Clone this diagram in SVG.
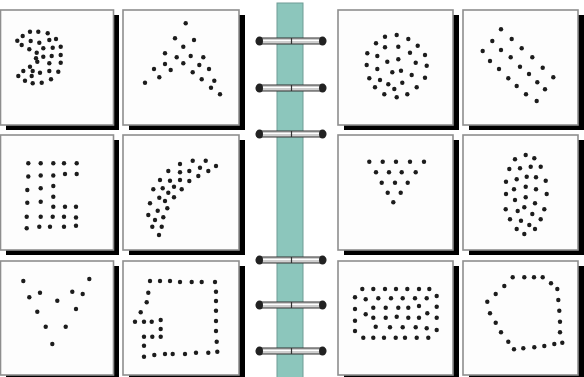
<svg xmlns="http://www.w3.org/2000/svg" width="584" height="377" viewBox="0 0 584 377">
<style>
.sh{fill:#000}
.cd{fill:#fdfdfd;stroke:#8e8e8e;stroke-width:1.6}
.d circle{fill:#1c1c1c}
.bar{fill:#cfcfcf;stroke:#333;stroke-width:1.2}
.hl{stroke:#fff;stroke-width:1}
.cap{fill:#222}
.tick{stroke:#333;stroke-width:1.2}
</style>
<rect width="584" height="377" fill="#ffffff"/>
<g id="spine">
<rect x="277" y="3" width="26" height="380" fill="#8cc6bc" stroke="#6f9c95" stroke-width="1"/>
</g>
<g id="card1">
<rect class="sh" x="6" y="15" width="113" height="115"/>
<rect class="cd" x="0.5" y="10" width="113" height="115"/>
<g class="d">
<circle cx="17.3" cy="40.7" r="2.2"/><circle cx="22.7" cy="36" r="2.2"/><circle cx="30" cy="31.7" r="2.2"/><circle cx="38.3" cy="31.7" r="2.2"/><circle cx="47.7" cy="33.3" r="2.2"/>
<circle cx="21.7" cy="45" r="2.2"/><circle cx="30.7" cy="41" r="2.2"/><circle cx="39.3" cy="42.7" r="2.2"/><circle cx="49.3" cy="40" r="2.2"/><circle cx="56" cy="39" r="2.2"/>
<circle cx="29.3" cy="49.3" r="2.2"/><circle cx="36.7" cy="52.7" r="2.2"/><circle cx="43.3" cy="48.3" r="2.2"/><circle cx="52.7" cy="47.7" r="2.2"/><circle cx="60.7" cy="46.7" r="2.2"/>
<circle cx="36" cy="58.3" r="2.2"/><circle cx="43.3" cy="56.7" r="2.2"/><circle cx="51.7" cy="56" r="2.2"/><circle cx="60.7" cy="55" r="2.2"/>
<circle cx="30" cy="66.7" r="2.2"/><circle cx="37.3" cy="61.7" r="2.2"/><circle cx="49.3" cy="63.3" r="2.2"/><circle cx="60.7" cy="62.7" r="2.2"/>
<circle cx="23.3" cy="71" r="2.2"/><circle cx="32.7" cy="71" r="2.2"/><circle cx="40" cy="72.7" r="2.2"/><circle cx="49.3" cy="71" r="2.2"/><circle cx="58.3" cy="71.7" r="2.2"/>
<circle cx="18.3" cy="76" r="2.2"/><circle cx="31.7" cy="76" r="2.2"/><circle cx="25" cy="80.7" r="2.2"/><circle cx="32.7" cy="83.3" r="2.2"/><circle cx="41.7" cy="82.7" r="2.2"/><circle cx="51" cy="79.3" r="2.2"/>
</g>
</g>
<g id="card2">
<rect class="sh" x="129" y="15" width="116" height="115"/>
<rect class="cd" x="123" y="10" width="116" height="115"/>
<g class="d">
<circle cx="185.7" cy="23.3" r="2.2"/><circle cx="175" cy="38.3" r="2.2"/><circle cx="194" cy="40" r="2.2"/><circle cx="183.3" cy="46.7" r="2.2"/>
<circle cx="165" cy="53.3" r="2.2"/><circle cx="176.7" cy="57.3" r="2.2"/><circle cx="190.7" cy="56" r="2.2"/><circle cx="203.3" cy="57.3" r="2.2"/>
<circle cx="165" cy="64" r="2.2"/><circle cx="183.3" cy="63.3" r="2.2"/><circle cx="199.3" cy="65" r="2.2"/>
<circle cx="154" cy="69" r="2.2"/><circle cx="170.7" cy="70" r="2.2"/><circle cx="192.7" cy="72.3" r="2.2"/><circle cx="209" cy="69" r="2.2"/>
<circle cx="159.3" cy="77.3" r="2.2"/><circle cx="201.7" cy="79.3" r="2.2"/><circle cx="214.3" cy="80.7" r="2.2"/>
<circle cx="145" cy="82.7" r="2.2"/><circle cx="211" cy="87.7" r="2.2"/><circle cx="220" cy="94.3" r="2.2"/>
</g>
</g>
<g id="card3">
<rect class="sh" x="344" y="15" width="115" height="115"/>
<rect class="cd" x="338" y="10" width="115" height="115"/>
<g class="d">
<circle cx="385" cy="36.7" r="2.2"/><circle cx="396.7" cy="35" r="2.2"/><circle cx="408.3" cy="39" r="2.2"/>
<circle cx="376" cy="43.3" r="2.2"/><circle cx="385" cy="47.3" r="2.2"/><circle cx="398.3" cy="46.7" r="2.2"/><circle cx="417.7" cy="45.7" r="2.2"/>
<circle cx="367.3" cy="53.3" r="2.2"/><circle cx="377.3" cy="56" r="2.2"/><circle cx="387.3" cy="61.7" r="2.2"/><circle cx="398.3" cy="59.3" r="2.2"/><circle cx="410" cy="52.7" r="2.2"/><circle cx="425" cy="55" r="2.2"/>
<circle cx="366.7" cy="65" r="2.2"/><circle cx="377.3" cy="69" r="2.2"/><circle cx="392.3" cy="72.3" r="2.2"/><circle cx="401" cy="70.7" r="2.2"/><circle cx="415.7" cy="62.7" r="2.2"/><circle cx="426.7" cy="65.7" r="2.2"/>
<circle cx="369.3" cy="78.3" r="2.2"/><circle cx="380" cy="80" r="2.2"/><circle cx="388.3" cy="84.3" r="2.2"/><circle cx="402.3" cy="82.7" r="2.2"/><circle cx="411.7" cy="75" r="2.2"/><circle cx="425" cy="77.7" r="2.2"/>
<circle cx="375" cy="87.3" r="2.2"/><circle cx="394.3" cy="89" r="2.2"/><circle cx="416.7" cy="87.3" r="2.2"/>
<circle cx="384.3" cy="94.3" r="2.2"/><circle cx="396.7" cy="97.3" r="2.2"/><circle cx="407.3" cy="94.3" r="2.2"/>
</g>
</g>
<g id="card4">
<rect class="sh" x="469" y="15" width="115" height="115"/>
<rect class="cd" x="463" y="10" width="115" height="115"/>
<g class="d">
<circle cx="501" cy="29.3" r="2.2"/><circle cx="492.3" cy="41" r="2.2"/><circle cx="511.7" cy="39" r="2.2"/>
<circle cx="482.7" cy="51" r="2.2"/><circle cx="501" cy="50" r="2.2"/><circle cx="521.7" cy="48.3" r="2.2"/>
<circle cx="490" cy="61" r="2.2"/><circle cx="510.7" cy="57.3" r="2.2"/><circle cx="532.3" cy="57.3" r="2.2"/>
<circle cx="499" cy="69" r="2.2"/><circle cx="520" cy="66.7" r="2.2"/><circle cx="542.7" cy="67.7" r="2.2"/>
<circle cx="508.3" cy="78.3" r="2.2"/><circle cx="529" cy="74" r="2.2"/><circle cx="553.3" cy="77.3" r="2.2"/>
<circle cx="516.7" cy="86" r="2.2"/><circle cx="537.3" cy="82.3" r="2.2"/><circle cx="545" cy="89.3" r="2.2"/>
<circle cx="526" cy="94.3" r="2.2"/><circle cx="536.7" cy="101" r="2.2"/>
</g>
</g>
<g id="card5">
<rect class="sh" x="6" y="140" width="113" height="115"/>
<rect class="cd" x="0.5" y="135" width="113" height="115"/>
<g class="d">
<circle cx="28.3" cy="163.3" r="2.2"/><circle cx="40.7" cy="163.3" r="2.2"/><circle cx="53.3" cy="163.3" r="2.2"/><circle cx="64" cy="163.3" r="2.2"/><circle cx="76.7" cy="163.3" r="2.2"/>
<circle cx="28.3" cy="176.5" r="2.2"/><circle cx="40.7" cy="175.5" r="2.2"/><circle cx="53.3" cy="175.5" r="2.2"/><circle cx="65" cy="174" r="2.2"/><circle cx="76.7" cy="174" r="2.2"/>
<circle cx="27.3" cy="190" r="2.2"/><circle cx="40.7" cy="188.3" r="2.2"/><circle cx="53.3" cy="186" r="2.2"/>
<circle cx="27.3" cy="202.7" r="2.2"/><circle cx="40.7" cy="201.7" r="2.2"/><circle cx="53.3" cy="196.7" r="2.2"/>
<circle cx="53.3" cy="206.7" r="2.2"/><circle cx="65" cy="206.7" r="2.2"/><circle cx="76" cy="206.7" r="2.2"/>
<circle cx="26.7" cy="216.7" r="2.2"/><circle cx="40.7" cy="216.7" r="2.2"/><circle cx="52.7" cy="216.7" r="2.2"/><circle cx="64" cy="216.7" r="2.2"/><circle cx="76" cy="217.5" r="2.2"/>
<circle cx="26.7" cy="228.3" r="2.2"/><circle cx="39.3" cy="226.7" r="2.2"/><circle cx="50" cy="226.7" r="2.2"/><circle cx="64" cy="226.7" r="2.2"/><circle cx="76" cy="225.7" r="2.2"/>
</g>
</g>
<g id="card6">
<rect class="sh" x="129" y="140" width="116" height="115"/>
<rect class="cd" x="123" y="135" width="116" height="115"/>
<g class="d">
<circle cx="192.7" cy="160.7" r="2.2"/><circle cx="205.7" cy="160.7" r="2.2"/><circle cx="180" cy="164" r="2.2"/><circle cx="200" cy="167.7" r="2.2"/><circle cx="216" cy="166" r="2.2"/>
<circle cx="168.3" cy="171" r="2.2"/><circle cx="180" cy="172.3" r="2.2"/><circle cx="189.3" cy="171" r="2.2"/><circle cx="208.3" cy="171" r="2.2"/>
<circle cx="160" cy="180" r="2.2"/><circle cx="170" cy="180.7" r="2.2"/><circle cx="180" cy="180" r="2.2"/><circle cx="189.3" cy="181" r="2.2"/><circle cx="198.3" cy="176" r="2.2"/>
<circle cx="153.3" cy="189.3" r="2.2"/><circle cx="162.7" cy="188.3" r="2.2"/><circle cx="174" cy="186.7" r="2.2"/><circle cx="181.7" cy="189.3" r="2.2"/>
<circle cx="159.3" cy="197.7" r="2.2"/><circle cx="168.3" cy="192.7" r="2.2"/><circle cx="174" cy="197.3" r="2.2"/>
<circle cx="150" cy="203.3" r="2.2"/><circle cx="165" cy="201" r="2.2"/><circle cx="167.3" cy="208.3" r="2.2"/><circle cx="157.7" cy="210.7" r="2.2"/>
<circle cx="148.3" cy="215" r="2.2"/><circle cx="163.3" cy="217.3" r="2.2"/><circle cx="155" cy="220" r="2.2"/>
<circle cx="152.3" cy="226.7" r="2.2"/><circle cx="161.7" cy="226.7" r="2.2"/><circle cx="159" cy="235" r="2.2"/>
</g>
</g>
<g id="card7">
<rect class="sh" x="344" y="140" width="115" height="115"/>
<rect class="cd" x="338" y="135" width="115" height="115"/>
<g class="d">
<circle cx="369.3" cy="161.7" r="2.2"/><circle cx="382.7" cy="161.7" r="2.2"/><circle cx="396" cy="161.7" r="2.2"/><circle cx="410" cy="161.7" r="2.2"/><circle cx="424" cy="161.7" r="2.2"/>
<circle cx="376" cy="172.3" r="2.2"/><circle cx="389" cy="172.3" r="2.2"/><circle cx="401.7" cy="172.3" r="2.2"/><circle cx="415.7" cy="172.3" r="2.2"/>
<circle cx="381.7" cy="182.7" r="2.2"/><circle cx="395" cy="182.7" r="2.2"/><circle cx="407.7" cy="182.7" r="2.2"/>
<circle cx="387.7" cy="192.7" r="2.2"/><circle cx="400.7" cy="192.7" r="2.2"/>
<circle cx="393.3" cy="202.3" r="2.2"/>
</g>
</g>
<g id="card8">
<rect class="sh" x="469" y="140" width="115" height="115"/>
<rect class="cd" x="463" y="135" width="115" height="115"/>
<g class="d">
<circle cx="525.7" cy="155" r="2.2"/><circle cx="515" cy="159.3" r="2.2"/><circle cx="534.3" cy="158.3" r="2.2"/>
<circle cx="509.3" cy="169" r="2.2"/><circle cx="520" cy="168.3" r="2.2"/><circle cx="530.7" cy="166.7" r="2.2"/><circle cx="540.7" cy="166.7" r="2.2"/>
<circle cx="506" cy="181.7" r="2.2"/><circle cx="516.7" cy="179.3" r="2.2"/><circle cx="526.7" cy="176.7" r="2.2"/><circle cx="536" cy="177.3" r="2.2"/><circle cx="545.7" cy="180.7" r="2.2"/>
<circle cx="506" cy="194" r="2.2"/><circle cx="514" cy="189.3" r="2.2"/><circle cx="525.7" cy="186.7" r="2.2"/><circle cx="536" cy="189.3" r="2.2"/><circle cx="546.7" cy="194" r="2.2"/>
<circle cx="515" cy="200" r="2.2"/><circle cx="525.7" cy="197.3" r="2.2"/>
<circle cx="505.7" cy="209.3" r="2.2"/><circle cx="517.7" cy="211" r="2.2"/><circle cx="524.3" cy="207.3" r="2.2"/><circle cx="535" cy="203.3" r="2.2"/><circle cx="544.3" cy="209.3" r="2.2"/>
<circle cx="510" cy="219.3" r="2.2"/><circle cx="521" cy="220.7" r="2.2"/><circle cx="532.3" cy="214" r="2.2"/><circle cx="540.7" cy="219.3" r="2.2"/>
<circle cx="516.7" cy="229" r="2.2"/><circle cx="529.3" cy="225" r="2.2"/><circle cx="535" cy="229" r="2.2"/><circle cx="524.3" cy="234" r="2.2"/>
</g>
</g>
<g id="card9">
<rect class="sh" x="6" y="266" width="113" height="115"/>
<rect class="cd" x="0.5" y="261" width="113" height="114"/>
<g class="d">
<circle cx="23.3" cy="281" r="2.2"/><circle cx="89.3" cy="279" r="2.2"/><circle cx="29.3" cy="297.3" r="2.2"/><circle cx="40" cy="292.7" r="2.2"/>
<circle cx="72.3" cy="291.7" r="2.2"/><circle cx="82.7" cy="294" r="2.2"/><circle cx="57.3" cy="300.7" r="2.2"/><circle cx="37.3" cy="311.7" r="2.2"/>
<circle cx="76" cy="309" r="2.2"/><circle cx="45.7" cy="326.7" r="2.2"/><circle cx="65.7" cy="326.7" r="2.2"/><circle cx="52.3" cy="344" r="2.2"/>
</g>
</g>
<g id="card10">
<rect class="sh" x="129" y="266" width="116" height="115"/>
<rect class="cd" x="123" y="261" width="116" height="114"/>
<g class="d">
<circle cx="150" cy="281" r="2.2"/><circle cx="160" cy="281" r="2.2"/><circle cx="170" cy="281" r="2.2"/><circle cx="180" cy="282" r="2.2"/><circle cx="191.7" cy="282" r="2.2"/><circle cx="201.7" cy="282" r="2.2"/><circle cx="215" cy="282" r="2.2"/>
<circle cx="216" cy="291.7" r="2.2"/><circle cx="216" cy="301" r="2.2"/><circle cx="216" cy="310.7" r="2.2"/><circle cx="216" cy="321" r="2.2"/><circle cx="216" cy="331" r="2.2"/><circle cx="216.7" cy="341.7" r="2.2"/>
<circle cx="144" cy="356.7" r="2.2"/><circle cx="154.3" cy="355" r="2.2"/><circle cx="165" cy="354" r="2.2"/><circle cx="172.7" cy="354" r="2.2"/><circle cx="185" cy="354" r="2.2"/><circle cx="196" cy="352.7" r="2.2"/><circle cx="208.3" cy="352.7" r="2.2"/><circle cx="217.3" cy="351.7" r="2.2"/>
<circle cx="148.3" cy="292.7" r="2.2"/><circle cx="146.7" cy="302.3" r="2.2"/><circle cx="140.7" cy="312.3" r="2.2"/>
<circle cx="135" cy="321.7" r="2.2"/><circle cx="144" cy="321.7" r="2.2"/><circle cx="151.7" cy="321.7" r="2.2"/><circle cx="160.7" cy="320" r="2.2"/>
<circle cx="160.7" cy="329" r="2.2"/><circle cx="144" cy="336.7" r="2.2"/><circle cx="152.3" cy="336.7" r="2.2"/><circle cx="160.7" cy="336.7" r="2.2"/><circle cx="144" cy="345.7" r="2.2"/>
</g>
</g>
<g id="card11">
<rect class="sh" x="344" y="266" width="115" height="115"/>
<rect class="cd" x="338" y="261" width="115" height="114"/>
<g class="d">
<circle cx="362.3" cy="289" r="2.2"/><circle cx="373.3" cy="289" r="2.2"/><circle cx="385" cy="289" r="2.2"/><circle cx="396" cy="289" r="2.2"/><circle cx="407.3" cy="289" r="2.2"/><circle cx="419" cy="289" r="2.2"/><circle cx="429.3" cy="289" r="2.2"/>
<circle cx="355" cy="297.3" r="2.2"/><circle cx="365.7" cy="299.3" r="2.2"/><circle cx="378.3" cy="298.3" r="2.2"/><circle cx="391" cy="298.3" r="2.2"/><circle cx="402.7" cy="298.3" r="2.2"/><circle cx="415" cy="298.3" r="2.2"/><circle cx="426.7" cy="298.3" r="2.2"/><circle cx="436.7" cy="296" r="2.2"/>
<circle cx="355" cy="309" r="2.2"/><circle cx="373.3" cy="307.7" r="2.2"/><circle cx="385.7" cy="307.7" r="2.2"/><circle cx="398.3" cy="307.7" r="2.2"/><circle cx="408.3" cy="307.7" r="2.2"/><circle cx="419" cy="306" r="2.2"/><circle cx="436.7" cy="306.7" r="2.2"/>
<circle cx="355" cy="320.7" r="2.2"/><circle cx="365.7" cy="314.3" r="2.2"/><circle cx="373.3" cy="317.7" r="2.2"/><circle cx="385.7" cy="317.7" r="2.2"/><circle cx="396.7" cy="316.7" r="2.2"/><circle cx="408.3" cy="317.7" r="2.2"/><circle cx="419" cy="317.7" r="2.2"/><circle cx="427.3" cy="313.3" r="2.2"/><circle cx="436.7" cy="317.7" r="2.2"/>
<circle cx="355" cy="331" r="2.2"/><circle cx="375.7" cy="326.7" r="2.2"/><circle cx="390" cy="327.3" r="2.2"/><circle cx="402.7" cy="327.3" r="2.2"/><circle cx="415.7" cy="327.3" r="2.2"/><circle cx="426.7" cy="328.3" r="2.2"/><circle cx="436.7" cy="330" r="2.2"/>
<circle cx="363.3" cy="337.7" r="2.2"/><circle cx="373.3" cy="337.7" r="2.2"/><circle cx="384" cy="337.7" r="2.2"/><circle cx="395.7" cy="337.7" r="2.2"/><circle cx="405" cy="337.7" r="2.2"/><circle cx="416.7" cy="337.7" r="2.2"/><circle cx="428.3" cy="337.7" r="2.2"/>
</g>
</g>
<g id="card12">
<rect class="sh" x="469" y="266" width="115" height="115"/>
<rect class="cd" x="463" y="261" width="115" height="114"/>
<g class="d">
<circle cx="512.7" cy="277.3" r="2.2"/><circle cx="524.3" cy="277.3" r="2.2"/><circle cx="534" cy="277.3" r="2.2"/><circle cx="542.7" cy="277.3" r="2.2"/>
<circle cx="504.3" cy="286" r="2.2"/><circle cx="551" cy="283.3" r="2.2"/><circle cx="495.7" cy="294" r="2.2"/><circle cx="557.3" cy="289" r="2.2"/>
<circle cx="487.3" cy="301.7" r="2.2"/><circle cx="558.3" cy="300" r="2.2"/><circle cx="490" cy="313.3" r="2.2"/><circle cx="559.3" cy="310.7" r="2.2"/>
<circle cx="495.7" cy="322.7" r="2.2"/><circle cx="560" cy="321.7" r="2.2"/><circle cx="501" cy="332.3" r="2.2"/><circle cx="560" cy="332.3" r="2.2"/>
<circle cx="508.3" cy="341.7" r="2.2"/><circle cx="514" cy="349.3" r="2.2"/><circle cx="523.3" cy="348.3" r="2.2"/><circle cx="534.3" cy="347.3" r="2.2"/>
<circle cx="544.3" cy="346" r="2.2"/><circle cx="554.3" cy="344" r="2.2"/><circle cx="562.3" cy="342.7" r="2.2"/>
</g>
</g>
<defs>
<g id="ring">
<rect class="bar" x="256" y="-3" width="70" height="6" rx="3"/>
<line class="hl" x1="261" y1="-0.5" x2="321" y2="-0.5"/>
<ellipse class="cap" cx="259.5" cy="0" rx="3.5" ry="4.5"/>
<ellipse class="cap" cx="322.5" cy="0" rx="3.5" ry="4.5"/>
<line class="tick" x1="291.5" y1="-3" x2="291.5" y2="3"/>
</g>
</defs>
<g id="rings">
<use href="#ring" y="41"/>
<use href="#ring" y="88"/>
<use href="#ring" y="134"/>
<use href="#ring" y="260"/>
<use href="#ring" y="305"/>
<use href="#ring" y="351"/>
</g>
</svg>
